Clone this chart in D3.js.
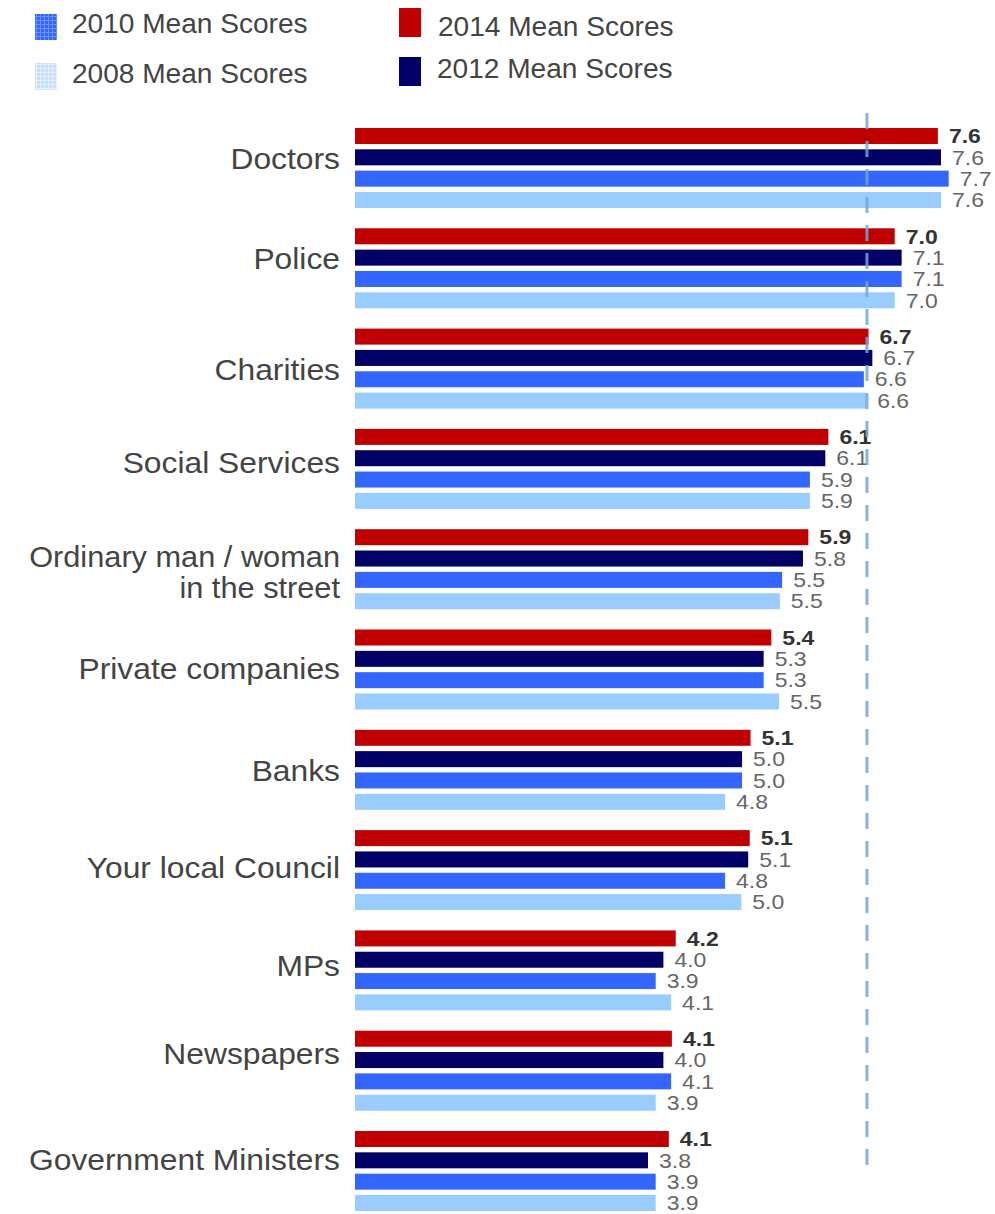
<!DOCTYPE html>
<html><head><meta charset="utf-8">
<script src="https://cdn.jsdelivr.net/npm/d3@7"></script>
<style>body{margin:0;background:#fff;} svg{display:block;font-family:"Liberation Sans",Arial,sans-serif;}</style>
</head><body><svg id="c" width="995" height="1214"></svg>
<script>
const categories = ["Doctors","Police","Charities","Social Services","Ordinary man / woman\nin the street","Private companies","Banks","Your local Council","MPs","Newspapers","Government Ministers"];
const seriesNames = ["2014 Mean Scores","2012 Mean Scores","2010 Mean Scores","2008 Mean Scores"];
const scores2014 = [7.56,7.0,6.66,6.14,5.88,5.4,5.13,5.12,4.16,4.11,4.07];
const scores2012 = [7.6,7.09,6.71,6.1,5.81,5.3,5.02,5.1,4.0,4.0,3.8];
const scores2010 = [7.7,7.09,6.6,5.9,5.54,5.3,5.02,4.8,3.9,4.1,3.9];
const scores2008 = [7.6,7.0,6.63,5.9,5.51,5.5,4.8,5.01,4.1,3.9,3.9];
const referenceValue = 6.64;

// layout (not data): small vertical nudges of category labels as in the original
const labelNudge = [-6,-6,5,-2,0,3,5,1,-1,-13,-8];

const colors = ["#c00000","#000066","#3366ff","#99ccff"];
const series = [scores2014,scores2012,scores2010,scores2008];
const SX = 1.15;

const svg = d3.select("#c");
const defs = svg.append("defs");
function gridPattern(id, fill, line){
  const p = defs.append("pattern").attr("id",id).attr("patternUnits","userSpaceOnUse").attr("width",4).attr("height",4);
  p.append("rect").attr("width",4).attr("height",4).attr("fill",fill);
  p.append("path").attr("d","M0,0.5H4M0.5,0V4").attr("stroke",line).attr("stroke-width",1);
}
gridPattern("g2010","#3366ff","#6b8fff");
gridPattern("g2008","#c6e0ff","#e4f0ff");

const x = d3.scaleLinear().domain([0,1]).range([355,355+77.1]);
const y0 = d3.scaleBand().domain(categories).range([128,128+100.3*categories.length]);
const y1 = d3.scaleBand().domain(d3.range(4)).range([0,80]).paddingInner(0.25);
const fmt = d3.format(".1f");

function stext(g, tx, ty, sx){
  return g.append("text").attr("transform",`translate(${tx},${ty}) scale(${sx},1)`);
}

const groups = svg.append("g").selectAll("g").data(categories).join("g")
  .attr("transform",(d)=>`translate(0,${y0(d)})`);

groups.each(function(cat,i){
  const g = d3.select(this);
  series.forEach((s,k)=>{
    g.append("rect").attr("x",x(0)).attr("y",y1(k)).attr("width",x(s[i])-x(0)).attr("height",y1.bandwidth()).attr("fill",colors[k]);
    stext(g, x(s[i])+11, y1(k)+y1.bandwidth()/2, SX).attr("dy","0.36em")
      .attr("font-size",20).attr("font-weight",k===0?"bold":"normal").attr("fill",k===0?"#333":"#666")
      .text(fmt(s[i]));
  });
  const lines = cat.split("\n");
  if(lines.length===1){
    stext(g, 340, 36+labelNudge[i], 1.06).attr("text-anchor","end").attr("font-size",30).attr("fill","#444")
      .attr("dy","0.35em").text(lines[0]);
  } else {
    lines.forEach((l,j)=>stext(g, 340, 28+j*31+labelNudge[i], 1.06).attr("text-anchor","end").attr("font-size",29).attr("fill","#444")
      .attr("dy","0.35em").text(l));
  }
});

svg.append("line").attr("x1",x(referenceValue)).attr("x2",x(referenceValue)).attr("y1",113).attr("y2",1168)
  .attr("stroke","#6fa8dc").attr("stroke-width",3).attr("stroke-dasharray","16,12").attr("opacity",0.85);

// legend
const legend = [
  {name:seriesNames[2], fill:"url(#g2010)", x:35, y:14, w:22, h:26, tx:72, ty:24},
  {name:seriesNames[3], fill:"url(#g2008)", x:35, y:63, w:22, h:27, tx:72, ty:74},
  {name:seriesNames[0], fill:colors[0], x:399, y:8, w:22, h:29, tx:438, ty:27},
  {name:seriesNames[1], fill:colors[1], x:399, y:57, w:22, h:29, tx:437, ty:69}
];
const lg = svg.append("g").selectAll("g").data(legend).join("g");
lg.append("rect").attr("x",d=>d.x).attr("y",d=>d.y).attr("width",d=>d.w).attr("height",d=>d.h).attr("fill",d=>d.fill);
lg.each(function(d){
  stext(d3.select(this), d.tx, d.ty, 1.04).attr("dy","0.35em").attr("font-size",27).attr("fill","#444").text(d.name);
});
</script></body></html>
